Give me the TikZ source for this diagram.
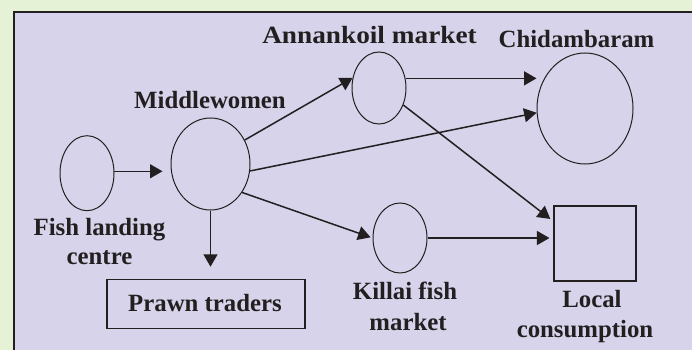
\documentclass[tikz,border=0pt]{standalone}
\usepackage{fontspec}
\setmainfont{Liberation Serif}
\usetikzlibrary{arrows.meta,shapes.geometric}
\definecolor{bggreen}{RGB}{229,242,213}
\definecolor{lav}{RGB}{214,211,234}
\definecolor{ink}{RGB}{35,31,32}
\begin{document}
\begin{tikzpicture}[x=1pt,y=-1pt,
  oval/.style={ellipse, draw=ink, line width=1pt, inner sep=0pt},
  box/.style={rectangle, draw=ink, line width=1.1pt, inner sep=0pt},
  lbl/.style={font=\bfseries\fontsize{24.8}{30}\selectfont, text=ink, anchor=base, inner sep=0pt},
  arr/.style={draw=ink, line width=1.5pt, -{Triangle[length=12.5pt,width=14pt]}}]
\useasboundingbox (0,0) rectangle (692,350);
\fill[bggreen] (0,0) rectangle (692,350);
\draw[ink, line width=2pt, fill=lav] (14,12) rectangle (710,370);
% shapes
\node[oval, minimum width=54, minimum height=75] (fl) at (87,173.2) {};
\node[oval, minimum width=79, minimum height=92] (mw) at (210.5,164) {};
\node[oval, minimum width=54, minimum height=72] (an) at (379,88) {};
\node[oval, minimum width=96, minimum height=111] (ch) at (585,108.5) {};
\node[oval, minimum width=54, minimum height=70] (kl) at (400,238) {};
\node[box, minimum width=82, minimum height=75] (lc) at (595,243.5) {};
\node[box, minimum width=198, minimum height=49] (pt) at (206,303.8) {};
% labels
\node[lbl] (tAn) at (369.5,44) {\scalebox{1.1}[1]{Annankoil market}};
\node[lbl] (tCh) at (576.5,48) {Chidambaram};
\node[lbl] (tMw) at (210,108) {Middlewomen};
\node[lbl] (tFl1) at (99.5,235) {Fish landing};
\node[lbl] (tFl2) at (99.5,264) {centre};
\node[lbl] (tKl1) at (405,299) {Killai fish};
\node[lbl] (tKl2) at (408,330) {market};
\node[lbl] (tLc1) at (592,307) {Local};
\node[lbl] (tLc2) at (585,337) {consumption};
\node[lbl] (tPt) at (205,311) {Prawn traders};
% connectors
\draw[arr, shorten >=8pt] (fl.4) -- (fl.4 -| mw.west);
\draw[arr, shorten >=12pt] (mw.south) -- (mw.south |- pt.north);
\draw[arr] (mw.35) -- (an.159);
\draw[arr] (mw.-10) -- (ch.185);
\draw[arr, shorten >=2pt] (mw.-42.6) -- (kl.west);
\draw[arr] (an.20) -- (an.20 -| ch.west);
\draw[arr, shorten >=4pt] (an.-35) -- (lc.152);
\draw[arr, shorten >=4pt] (kl.east) -- (kl.east -| lc.west);
\end{tikzpicture}
\end{document}
